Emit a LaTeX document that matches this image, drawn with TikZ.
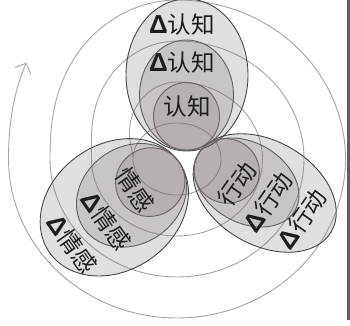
\documentclass[tikz,border=0pt]{standalone}
\usepackage{fontspec}
\newfontfamily\cjkf{Noto Sans CJK SC}
\newfontfamily\dltf{Liberation Sans}
\usetikzlibrary{arrows.meta}
\newcommand\dlt{{\dltf\bfseries\fontsize{26}{26}\selectfont Δ}}
\definecolor{lensfill}{RGB}{120,105,105}
\definecolor{spir}{RGB}{165,165,165}
\definecolor{lineo}{RGB}{70,70,70}
\definecolor{linem}{RGB}{95,95,95}
\definecolor{linei}{RGB}{105,100,100}
\definecolor{txt}{RGB}{30,30,30}
\definecolor{barc}{RGB}{95,95,95}
\begin{document}
\begin{tikzpicture}[x=1pt,y=-1pt,
  declare function={clp(\u)=min(max(\u,0),1);
    smo(\u)=clp(\u)*clp(\u)*(3-2*clp(\u));
    lev(\p)=smo((\p-360)/90)+smo((\p-720)/90)+smo((\p-1080)/90)+smo((\p-1440)/90);},
  spiral/.style={draw=spir, line width=0.9pt},
  lens/.style={fill=lensfill, fill opacity=0.22, line width=0.9pt},
  lbl/.style={font=\cjkf\fontsize{23.5}{23.5}\selectfont, text=txt, inner sep=0pt}]
\useasboundingbox (0,0) rectangle (350,325);
\clip (0,0) rectangle (350,325);
\fill[white] (0,0) rectangle (350,325);
% spiral
\draw[spiral, -{Straight Barb[length=8pt,width=17pt]}]
  plot[domain=-20:1474, samples=500, smooth]
  ({177-(44+41.5*lev(\x))*cos(\x)}, {159-(36+41*lev(\x))*sin(\x)});
% outer lenses
\draw[lens, draw=lineo] (187,75) ellipse[x radius=61, y radius=76];
\draw[lens, draw=lineo, rotate around={35:(114.3,207.3)}] (114.3,207.3) ellipse[x radius=79, y radius=63];
\draw[lens, draw=lineo, rotate around={-30:(264.7,193)}] (264.7,193) ellipse[x radius=77, y radius=52];
% middle lenses
\draw[lens, draw=linem] (186.5,95) ellipse[x radius=47, y radius=55];
\draw[lens, draw=linem, rotate around={35:(131.5,195.3)}] (131.5,195.3) ellipse[x radius=58, y radius=48.5];
\draw[lens, draw=linem, rotate around={-30:(246.5,182.5)}] (246.5,182.5) ellipse[x radius=56, y radius=40];
% inner lenses
\draw[lens, draw=linei] (186.5,116.5) ellipse[x radius=33, y radius=34];
\draw[lens, draw=linei, rotate around={35:(150.3,182.1)}] (150.3,182.1) ellipse[x radius=35, y radius=34];
\draw[lens, draw=linei, rotate around={-30:(226.6,171)}] (226.6,171) ellipse[x radius=33, y radius=32];
% labels
\node[lbl] (c3) at (182,25) {\dlt 认知};
\node[lbl] (c2) at (182,63) {\dlt 认知};
\node[lbl] (c1) at (187,107) {认知};
\node[lbl, rotate=-55] (e1) at (135,190) {情感};
\node[lbl, rotate=-55] (e2) at (106,221) {\dlt 情感};
\node[lbl, rotate=-55] (e3) at (72,244) {\dlt 情感};
\node[lbl, rotate=55] (a1) at (237,184) {行动};
\node[lbl, rotate=55] (a2) at (268,202) {\dlt 行动};
\node[lbl, rotate=55] (a3) at (302,219) {\dlt 行动};
% right edge bar
\fill[barc] (346.5,0) rectangle (350,320);
\end{tikzpicture}
\end{document}
